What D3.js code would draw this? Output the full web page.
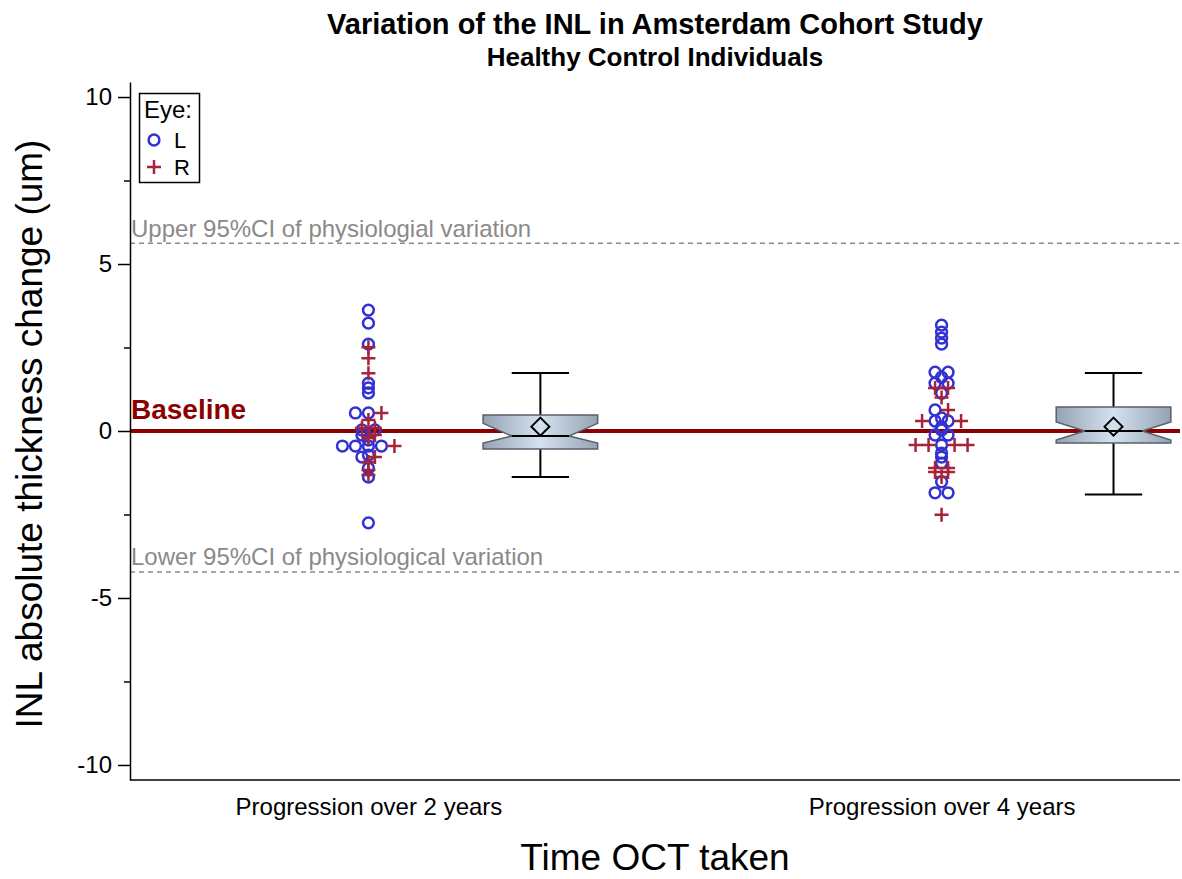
<!DOCTYPE html>
<html><head><meta charset="utf-8">
<script src="https://cdn.jsdelivr.net/npm/d3@7"></script>
<style>
body{margin:0;background:#fff}
svg{display:block}
text{font-family:"Liberation Sans",Arial,sans-serif}
</style>
</head><body>
<svg id="chart" width="1182" height="879"></svg>
<script>
// ---------------- data ----------------
const categories = ["Progression over 2 years", "Progression over 4 years"];

const leftEye2y  = [3.62, 3.23, 2.60, 1.43, 1.29, 1.14, 0.54, 0.54, 0.03, 0.03, -0.12, -0.27,
                    -0.45, -0.45, -0.45, -0.45, -0.72, -0.78, -1.11, -1.38, -2.75];
const rightEye2y = [2.51, 2.18, 1.73, 0.54, 0.33, 0.09, 0.09, -0.12, -0.18, -0.21, -0.45,
                    -0.78, -0.93, -1.17, -1.32];
const leftEye4y  = [3.17, 2.96, 2.78, 2.60, 1.76, 1.76, 1.61, 1.43, 1.43, 1.13, 0.63, 0.39,
                    0.30, 0.30, 0.12, 0.03, -0.12, -0.12, -0.42, -0.66, -0.78, -0.96, -1.52, -1.85, -1.85];
const rightEye4y = [1.29, 1.29, 1.00, 0.63, 0.30, 0.30, -0.42, -0.42, -0.42, -0.42,
                    -1.11, -1.11, -1.23, -1.23, -1.38, -2.51];

const boxQ1          = [-0.54, -0.36];
const boxMedian      = [-0.15, 0.00];
const boxQ3          = [0.48, 0.72];
const boxMean        = [0.13, 0.13];
const boxWhiskerLow  = [-1.38, -1.90];
const boxWhiskerHigh = [1.74, 1.74];
const boxNotchLow    = [-0.36, -0.27];
const boxNotchHigh   = [0.23, 0.27];

const upperCI = 5.62;
const lowerCI = -4.22;
const baselineValue = 0;

const yMajorTicks = [-10, -5, 0, 5, 10];
const yMinorTicks = [-7.5, -2.5, 2.5, 7.5];
const eyeLabels = ["L", "R"];

const titleText = "Variation of the INL in Amsterdam Cohort Study";
const subtitleText = "Healthy Control Individuals";
const yLabelText = "INL absolute thickness change (um)";
const xLabelText = "Time OCT taken";

// ---------------- layout ----------------
const mLeft = 130, mRight = 1180, mTop = 82, mBottom = 780;
const FONT = '"Liberation Sans", Arial, sans-serif';
const colL = "#3232d2", colR = "#a5233b", baseCol = "#8b0000", gray = "#8a8a8a";
const circR = 5.4, markW = 2.5;

const svg = d3.select("#chart");

const x = d3.scalePoint().domain(categories).range([mLeft, mRight]).padding(0.416);
const step = x.step();
const y = d3.scaleLinear().domain([-10.45, 10.45]).range([mBottom, mTop]);

const defs = svg.append("defs");
const grad = defs.append("linearGradient").attr("id", "boxGrad")
  .attr("x1", 0).attr("x2", 1).attr("y1", 0).attr("y2", 0);
grad.append("stop").attr("offset", "0%").attr("stop-color", "#94a2b2");
grad.append("stop").attr("offset", "50%").attr("stop-color", "#d4e2f0");
grad.append("stop").attr("offset", "100%").attr("stop-color", "#94a2b2");

// titles
svg.append("text").attr("x", (mLeft + mRight) / 2).attr("y", 34).attr("text-anchor", "middle")
  .attr("font-size", 29).attr("font-weight", "bold").text(titleText);
svg.append("text").attr("x", (mLeft + mRight) / 2).attr("y", 66).attr("text-anchor", "middle")
  .attr("font-size", 26).attr("font-weight", "bold").text(subtitleText);

// reference lines
const refG = svg.append("g");
[[upperCI, "Upper 95%CI of physiologial variation"], [lowerCI, "Lower 95%CI of physiological variation"]]
  .forEach(([v, lab]) => {
    refG.append("line").attr("x1", mLeft).attr("x2", mRight).attr("y1", y(v)).attr("y2", y(v))
      .attr("stroke", gray).attr("stroke-width", 1.5).attr("stroke-dasharray", "5,4");
    refG.append("text").attr("x", mLeft + 1).attr("y", y(v) - 6.5).attr("font-size", 24)
      .attr("fill", gray).text(lab);
  });

// baseline
refG.append("line").attr("x1", mLeft).attr("x2", mRight).attr("y1", y(baselineValue)).attr("y2", y(baselineValue))
  .attr("stroke", baseCol).attr("stroke-width", 4);
refG.append("text").attr("x", mLeft + 1).attr("y", y(baselineValue) - 12).attr("font-size", 28)
  .attr("font-weight", "bold").attr("fill", baseCol).text("Baseline");

// jittered points
const jitterPx = 13;
function slot(i, n) {
  if (n % 2 === 1) return i === 0 ? 0 : (i % 2 === 1 ? -Math.ceil(i / 2) : Math.ceil(i / 2));
  return i % 2 === 0 ? -(i / 2 + 0.5) : (Math.floor(i / 2) + 0.5);
}
function layoutPts(cat, lVals, rVals) {
  const pts = lVals.map(v => ({ v, eye: "L" })).concat(rVals.map(v => ({ v, eye: "R" })));
  const bins = d3.group(pts, d => d.v.toFixed(2));
  bins.forEach(arr => arr.forEach((p, i) => {
    p.px = x(cat) + slot(i, arr.length) * jitterPx;
    p.py = y(p.v);
  }));
  return pts;
}
const allPts = layoutPts(categories[0], leftEye2y, rightEye2y)
  .concat(layoutPts(categories[1], leftEye4y, rightEye4y));
const ptG = svg.append("g");
ptG.selectAll("circle.pt").data(allPts.filter(d => d.eye === "L")).join("circle")
  .attr("class", "pt").attr("cx", d => d.px).attr("cy", d => d.py).attr("r", circR)
  .attr("fill", "none").attr("stroke", colL).attr("stroke-width", markW);
const crossPath = "M-7,0H7M0,-7V7";
ptG.selectAll("path.pt").data(allPts.filter(d => d.eye === "R")).join("path")
  .attr("class", "pt").attr("d", crossPath).attr("transform", d => `translate(${d.px},${d.py})`)
  .attr("fill", "none").attr("stroke", colR).attr("stroke-width", markW);

// boxes
const boxG = svg.append("g");
categories.forEach((c, i) => {
  const cx = x(c) + 0.3 * step, hw = 0.1 * step, nw = 0.05 * step;
  const x0 = cx - hw, x1 = cx + hw;
  boxG.append("line").attr("x1", cx).attr("x2", cx).attr("y1", y(boxQ3[i])).attr("y2", y(boxWhiskerHigh[i]))
    .attr("stroke", "#000").attr("stroke-width", 2);
  boxG.append("line").attr("x1", cx).attr("x2", cx).attr("y1", y(boxQ1[i])).attr("y2", y(boxWhiskerLow[i]))
    .attr("stroke", "#000").attr("stroke-width", 2);
  [boxWhiskerHigh[i], boxWhiskerLow[i]].forEach(v => {
    boxG.append("line").attr("x1", cx - nw).attr("x2", cx + nw).attr("y1", y(v)).attr("y2", y(v))
      .attr("stroke", "#000").attr("stroke-width", 2);
  });
  const p = d3.path();
  p.moveTo(x0, y(boxQ3[i])); p.lineTo(x1, y(boxQ3[i])); p.lineTo(x1, y(boxNotchHigh[i]));
  p.lineTo(cx + nw, y(boxMedian[i])); p.lineTo(x1, y(boxNotchLow[i])); p.lineTo(x1, y(boxQ1[i]));
  p.lineTo(x0, y(boxQ1[i])); p.lineTo(x0, y(boxNotchLow[i])); p.lineTo(cx - nw, y(boxMedian[i]));
  p.lineTo(x0, y(boxNotchHigh[i])); p.closePath();
  boxG.append("path").attr("d", p.toString()).attr("fill", "url(#boxGrad)")
    .attr("stroke", "#56606c").attr("stroke-width", 1.5);
  boxG.append("line").attr("x1", cx - nw).attr("x2", cx + nw).attr("y1", y(boxMedian[i])).attr("y2", y(boxMedian[i]))
    .attr("stroke", "#000").attr("stroke-width", 2);
  const my = y(boxMean[i]), d = 9;
  boxG.append("path").attr("d", `M${cx},${my - d}L${cx + d},${my}L${cx},${my + d}L${cx - d},${my}Z`)
    .attr("fill", "none").attr("stroke", "#000").attr("stroke-width", 2);
});

// axes
const yAxis = svg.append("g").attr("transform", `translate(${mLeft},0)`)
  .call(d3.axisLeft(y).tickValues(yMajorTicks).tickSize(12).tickSizeOuter(0).tickPadding(6)
    .tickFormat(d => String(d)));
yAxis.attr("font-family", FONT).attr("font-size", 24);
yAxis.selectAll("path,line").attr("stroke", "#000").attr("stroke-width", 1.5);
yAxis.selectAll("text").attr("fill", "#000");
const yMinor = svg.append("g").attr("transform", `translate(${mLeft},0)`)
  .call(d3.axisLeft(y).tickValues(yMinorTicks).tickSize(6).tickFormat(""));
yMinor.select(".domain").remove();
yMinor.selectAll("line").attr("stroke", "#000").attr("stroke-width", 1.5);

const xAxis = svg.append("g").attr("transform", `translate(0,${mBottom})`)
  .call(d3.axisBottom(x).tickSize(0).tickSizeOuter(0));
xAxis.attr("font-family", FONT).attr("font-size", 24);
xAxis.select(".domain").attr("d", `M${mLeft},0H${mRight}`).attr("stroke", "#000").attr("stroke-width", 1.5);
xAxis.selectAll("text").attr("y", 35).attr("dy", null).attr("fill", "#000");

svg.append("text").attr("transform", `translate(42,434) rotate(-90)`).attr("text-anchor", "middle")
  .attr("font-size", 37).text(yLabelText);
svg.append("text").attr("x", (mLeft + mRight) / 2).attr("y", 870).attr("text-anchor", "middle")
  .attr("font-size", 37).text(xLabelText);

// legend
const lg = svg.append("g");
lg.append("rect").attr("x", 139.5).attr("y", 93.5).attr("width", 60).attr("height", 89)
  .attr("fill", "#fff").attr("stroke", "#000").attr("stroke-width", 1.5);
lg.append("text").attr("x", 144).attr("y", 118).attr("font-size", 24).text("Eye:");
lg.append("circle").attr("cx", 154).attr("cy", 140).attr("r", circR).attr("fill", "none")
  .attr("stroke", colL).attr("stroke-width", markW);
lg.append("path").attr("d", crossPath).attr("transform", "translate(154,167)")
  .attr("fill", "none").attr("stroke", colR).attr("stroke-width", markW);
lg.selectAll("text.lab").data(eyeLabels).join("text").attr("class", "lab")
  .attr("x", 174).attr("y", (d, i) => 148 + i * 27).attr("font-size", 22).text(d => d);
</script>
</body></html>
